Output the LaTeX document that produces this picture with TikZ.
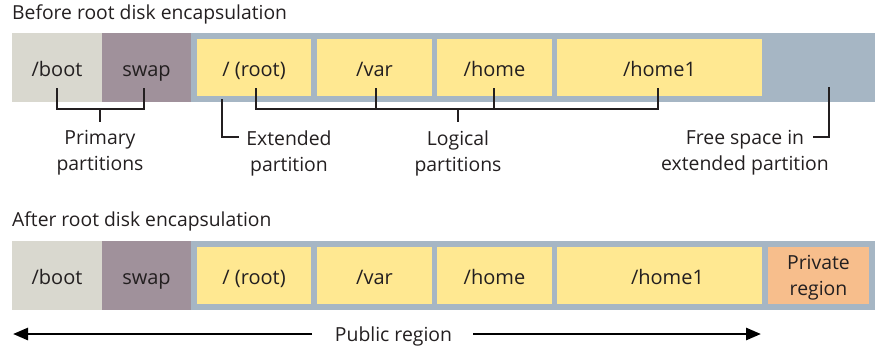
\documentclass[tikz,border=0pt]{standalone}
\usepackage{fontspec}
\setmainfont{Open Sans}
\usetikzlibrary{arrows.meta}
\definecolor{bootc}{HTML}{D9D8CF}
\definecolor{swapc}{HTML}{A0919B}
\definecolor{extc}{HTML}{A6B6C4}
\definecolor{partc}{HTML}{FFE891}
\definecolor{privc}{HTML}{F7BE8C}
\definecolor{txt}{HTML}{231F20}
\tikzset{
  seg/.style={draw=none, inner sep=0pt, minimum height=69pt, text height=19pt, text depth=2pt, text=txt, font=\fontsize{20}{26}\selectfont},
  part/.style={seg, fill=partc, minimum height=57pt},
  lbl/.style={inner sep=0pt, align=center, text=txt, font=\fontsize{19.4}{26}\selectfont},
  ttl/.style={inner sep=0pt, anchor=base west, text=txt, font=\fontsize{19.3}{26}\selectfont},
  br/.style={draw=txt, line width=2.3pt},
  arr/.style={draw=black, line width=2.7pt, -{Triangle[length=15pt,width=12pt]}}
}
\begin{document}
\begin{tikzpicture}[x=1pt,y=-1pt]
\useasboundingbox (0,0) rectangle (875,349);
% ---------- Before ----------
\node[ttl] (t1) at (12,19.5) {Before root disk encapsulation};
\node[seg, fill=bootc, minimum width=90pt] (boot) at (57,67.5) {/boot};
\node[seg, fill=swapc, minimum width=89pt] (swap) at (146.5,67.5) {swap};
\node[seg, fill=extc, minimum width=684pt] (ext) at (533,67.5) {};
\node[part, minimum width=114pt] (root) at (254,67.5) {/ (root)};
\node[part, minimum width=115pt] (var) at (374.5,67.5) {/var};
\node[part, minimum width=115pt] (home) at (494.5,67.5) {/home};
\node[part, minimum width=205pt] (homeA) at (659.5,67.5) {/home1};

\node[lbl] (prim) at (100,153) {Primary\\partitions};
\node[lbl] (extl) at (289,153) {Extended\\partition};
\node[lbl] (logl) at (458,153) {Logical\\partitions};
\node[lbl] (free) at (745,153) {Free space in\\extended partition};

\coordinate (pa) at (57,88);
\coordinate (pb) at (144,88);
\coordinate (pm) at (100,109);
\draw[br] (pa) |- (pm) -| (pb);
\draw[br] (pm) -- (100,122);

\coordinate (ea) at (222,99);
\draw[br] (ea) |- (239,137);

\coordinate (la) at (256,88);
\coordinate (lb) at (376,88);
\coordinate (lc) at (494,88);
\coordinate (ld) at (658,88);
\coordinate (lm) at (458,109);
\draw[br] (la) |- (lm) -| (ld);
\draw[br] (lb) -- (376,109);
\draw[br] (lc) -- (494,109);
\draw[br] (lm) -- (458,122);

\coordinate (fa) at (829,87);
\draw[br] (fa) |- (813,137);

% ---------- After ----------
\node[ttl] (t2) at (12,226.7) {After root disk encapsulation};
\node[seg, fill=bootc, minimum width=90pt] (boot2) at (57,275.5) {/boot};
\node[seg, fill=swapc, minimum width=89pt] (swap2) at (146.5,275.5) {swap};
\node[seg, fill=extc, minimum width=684pt] (ext2) at (533,275.5) {};
\node[part, minimum width=114pt] (root2) at (254,275.5) {/ (root)};
\node[part, minimum width=115pt] (var2) at (374.5,275.5) {/var};
\node[part, minimum width=115pt] (home2) at (494.5,275.5) {/home};
\node[part, minimum width=205pt] (homeB) at (659.5,275.5) {\hspace*{16pt}/home1};
\node[draw=none, fill=privc, inner sep=0pt, minimum width=101pt, minimum height=57pt] (priv) at (818.5,275.5) {};
\node[inner sep=0pt, text=txt, align=center, font=\fontsize{19.4}{26}\selectfont] (privt) at (818.5,277.5) {Private\\region};

\node[lbl] (pub) at (393.5,336) {Public region};
\coordinate (al) at (13,334);
\coordinate (ar) at (761,334);
\draw[arr] (312,334) -- (al);
\draw[arr] (473,334) -- (ar);
\end{tikzpicture}
\end{document}
